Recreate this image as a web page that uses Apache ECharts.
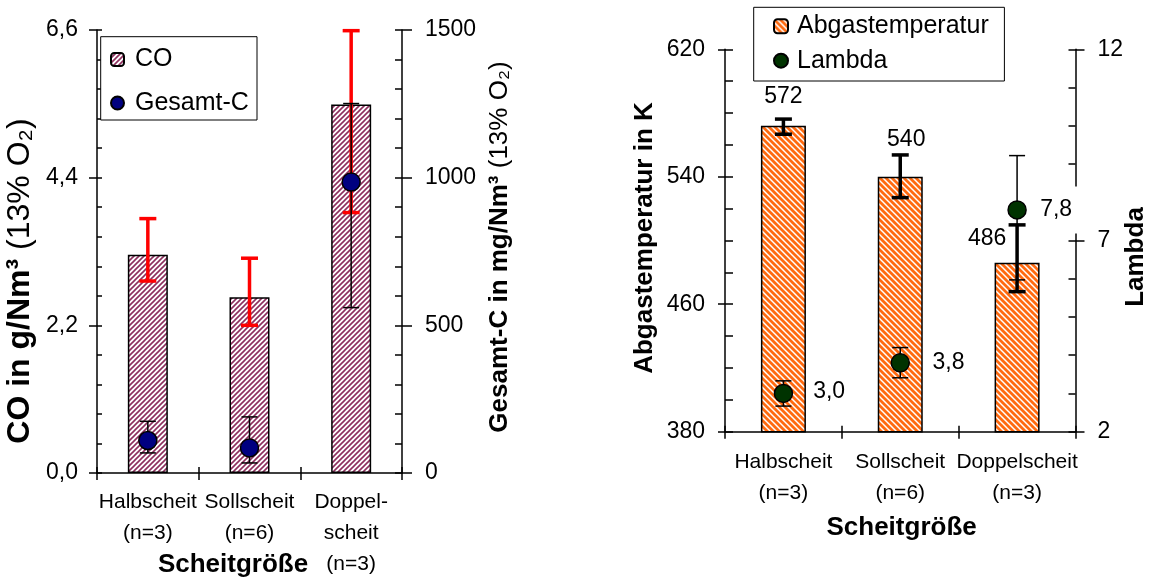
<!DOCTYPE html>
<html><head><meta charset="utf-8">
<script src="https://cdn.jsdelivr.net/npm/echarts@6/dist/echarts.min.js"></script>
<style>html,body{margin:0;padding:0;background:#fff}#c{width:1153px;height:579px}</style>
</head><body><div id="c"></div>
<script>
// ---------- data ----------
const catsLeft = ['Halbscheit\n(n=3)', 'Sollscheit\n(n=6)', 'Doppel-\nscheit\n(n=3)'];
const catsRight = ['Halbscheit\n(n=3)', 'Sollscheit\n(n=6)', 'Doppelscheit\n(n=3)'];
const coValues = [3.25, 2.62, 5.49];
const coLow = [2.86, 2.20, 3.88];
const coHigh = [3.79, 3.20, 6.59];
const gesamtC = [110, 85, 985];
const gesamtCLow = [68, 34, 560];
const gesamtCHigh = [175, 190, 1251];
const abgasTemp = [572, 540, 486];
const abgasLow = [566.7, 526.9, 467.9];
const abgasHigh = [576.2, 553.7, 509.8];
const lambdaVals = [3.0, 3.8, 7.8];
const lambdaLow = [2.67, 3.41, 5.97];
const lambdaHigh = [3.33, 4.20, 9.22];
const coTicks = [0, 2.2, 4.4, 6.6];
const gesamtTicks = [0, 500, 1000, 1500];
const tempTicks = [380, 460, 540, 620];
const lambdaTicks = [2, 7, 12];

// ---------- styles ----------
const FF = '"Liberation Sans", Arial, sans-serif';
const abgasLabelOffsets = [[0, -17.5], [6, -25.3], [-30, -13]];
const lambdaLabelOffsets = [[20, -1.7], [22.5, 0], [10.3, 0]];

function stripes(color, size, lw, dir) {
  const c = document.createElement('canvas');
  c.width = c.height = size;
  const g = c.getContext('2d');
  g.fillStyle = '#fff'; g.fillRect(0, 0, size, size);
  g.strokeStyle = color; g.lineWidth = lw; g.beginPath();
  for (const o of [-size, 0, size]) {
    if (dir === '/') { g.moveTo(o - 1, size + 1); g.lineTo(o + size + 1, -1); }
    else { g.moveTo(o - 1, -1); g.lineTo(o + size + 1, size + 1); }
  }
  g.stroke();
  return { image: c, repeat: 'repeat' };
}
const coPattern = stripes('#8e2f5e', 5, 1.6, '/');
const abgasPattern = stripes('#ff6a10', 6, 2.8, '\\');

const fmtComma = v => v.toFixed(1).replace('.', ',');
const black = { color: '#000', width: 1.5 };

function mainY(grid, pos, ticks, fmt, margin, outLen) {
  return {
    type: 'value', gridIndex: grid, position: pos,
    min: ticks[0], max: ticks[ticks.length - 1], interval: ticks[1] - ticks[0],
    axisLine: { show: true, lineStyle: black },
    axisTick: { show: true, inside: false, length: outLen, lineStyle: black },
    axisLabel: { formatter: fmt, margin: margin, fontSize: 23, color: '#000', fontFamily: FF },
    splitLine: { show: false }
  };
}
function dupY(grid, pos, ticks, step, len) {
  return {
    type: 'value', gridIndex: grid, position: pos,
    min: ticks[0], max: ticks[ticks.length - 1], interval: step,
    axisLine: { show: false },
    axisTick: { show: true, inside: true, length: len, lineStyle: black },
    axisLabel: { show: false }, splitLine: { show: false }
  };
}
function mainX(grid, cats, margin, lh) {
  return {
    type: 'category', gridIndex: grid, position: 'bottom', data: cats,
    axisLine: { show: true, lineStyle: black },
    axisTick: { show: true, length: 7, lineStyle: black },
    axisLabel: { interval: 0, margin: margin, fontSize: 21, lineHeight: lh, color: '#000', fontFamily: FF }
  };
}
function dupX(grid, cats) {
  return {
    type: 'category', gridIndex: grid, position: 'bottom', data: cats,
    axisLine: { show: false },
    axisTick: { show: true, inside: true, length: 6, lineStyle: black },
    axisLabel: { show: false }
  };
}
function errorBar(color, lw, capW) {
  return function (params, api) {
    const i = api.value(0);
    const lo = api.coord([i, api.value(1)]);
    const hi = api.coord([i, api.value(2)]);
    const h = capW / 2;
    const st = { stroke: color, lineWidth: lw };
    return { type: 'group', children: [
      { type: 'line', shape: { x1: lo[0], y1: lo[1], x2: hi[0], y2: hi[1] }, style: st },
      { type: 'line', shape: { x1: lo[0] - h, y1: lo[1], x2: lo[0] + h, y2: lo[1] }, style: st },
      { type: 'line', shape: { x1: hi[0] - h, y1: hi[1], x2: hi[0] + h, y2: hi[1] }, style: st }
    ]};
  };
}
function vTitle(x, y, text, size) {
  return { type: 'text', x: x, y: y, rotation: Math.PI / 2,
    style: { text: text, align: 'center', verticalAlign: 'middle', fill: '#000',
      rich: {
        b: { fontWeight: 'bold', fontSize: size, fontFamily: FF, fill: '#000' },
        n: { fontSize: size, fontFamily: FF, fill: '#000' }
      } } };
}

const chart = echarts.init(document.getElementById('c'), null, { renderer: 'canvas' });
chart.setOption({
  animation: false,
  backgroundColor: '#fff',
  grid: [
    { left: 97, top: 30, width: 305, height: 443, containLabel: false, outerBoundsMode: 'none' },
    { left: 725, top: 49.3, width: 350.5, height: 382.4, containLabel: false, outerBoundsMode: 'none' }
  ],
  xAxis: [mainX(0, catsLeft, 14, 31), dupX(0, catsLeft), mainX(1, catsRight, 15.7, 30.6), dupX(1, catsRight)],
  yAxis: [
    mainY(0, 'left', coTicks, fmtComma, 19, 8),
    dupY(0, 'left', coTicks, 0.44, 5),
    mainY(0, 'right', gesamtTicks, v => String(v), 23, 10),
    dupY(0, 'right', gesamtTicks, 100, 7),
    mainY(1, 'left', tempTicks, v => String(v), 20, 7),
    dupY(1, 'left', tempTicks, 20, 8),
    mainY(1, 'right', lambdaTicks, v => String(v), 22, 9),
    dupY(1, 'right', lambdaTicks, 1, 7)
  ],
  legend: [
    { data: ['CO', 'Gesamt-C'], orient: 'vertical', left: 110, top: 47, itemGap: 18.5,
      itemWidth: 13, itemHeight: 13, padding: 0, z: 10, selectedMode: false,
      textStyle: { fontSize: 25, lineHeight: 25, fontFamily: FF, color: '#000', padding: [0, 0, 0, 6] } },
    { data: ['Abgastemperatur', 'Lambda'], orient: 'vertical', left: 773, top: 13.3, itemGap: 8.4,
      itemWidth: 14, itemHeight: 14, padding: 0, z: 10, selectedMode: false,
      textStyle: { fontSize: 25, lineHeight: 26, fontFamily: FF, color: '#000', padding: [0, 0, 0, 4] } }
  ],
  graphic: [
    { type: 'rect', z: 9, shape: { x: 100.7, y: 36.7, width: 156.3, height: 83.3 },
      style: { fill: '#fff', stroke: '#000', lineWidth: 1 } },
    { type: 'rect', z: 9, shape: { x: 753.7, y: 7.3, width: 250.7, height: 73.7 },
      style: { fill: '#fff', stroke: '#000', lineWidth: 1 } },
    vTitle(20, 281, '{b|CO in g/Nm³}{n| (13% O₂)}', 32),
    vTitle(500, 247, '{b|Gesamt-C in mg/Nm³}{n| (13% O₂)}', 26),
    vTitle(645, 238, '{b|Abgastemperatur in K}', 26),
    vTitle(1136, 257, '{b|Lambda}', 26),
    { type: 'text', x: 233, y: 565, style: { text: 'Scheitgröße', font: 'bold 26px ' + FF, fill: '#000', align: 'center', verticalAlign: 'middle' } },
    { type: 'text', x: 901.6, y: 527.7, style: { text: 'Scheitgröße', font: 'bold 26px ' + FF, fill: '#000', align: 'center', verticalAlign: 'middle' } }
  ],
  series: [
    { name: 'CO', type: 'bar', xAxisIndex: 0, yAxisIndex: 0, barWidth: 40, z: 2,
      itemStyle: { color: coPattern, borderColor: '#000', borderWidth: 1.5 },
      data: coValues },
    { name: 'CO-err', type: 'custom', xAxisIndex: 0, yAxisIndex: 0, z: 3,
      renderItem: errorBar('#ff0000', 3.5, 17), encode: { x: 0, y: [1, 2] },
      data: coValues.map((v, i) => [i, coLow[i], coHigh[i]]) },
    { name: 'GC-err', type: 'custom', xAxisIndex: 0, yAxisIndex: 2, z: 4,
      renderItem: errorBar('#000', 1.5, 16), encode: { x: 0, y: [1, 2] },
      data: gesamtC.map((v, i) => [i, gesamtCLow[i], gesamtCHigh[i]]) },
    { name: 'Gesamt-C', type: 'scatter', xAxisIndex: 0, yAxisIndex: 2, z: 5,
      symbol: 'circle', symbolSize: 18,
      itemStyle: { color: '#000080', borderColor: '#000', borderWidth: 1.5, opacity: 1 },
      data: gesamtC },

    { name: 'Abgastemperatur', type: 'bar', xAxisIndex: 2, yAxisIndex: 4, barWidth: 45, z: 2,
      itemStyle: { color: abgasPattern, borderColor: '#000', borderWidth: 1.5 },
      label: { show: true, position: 'top', distance: 0, fontSize: 23, lineHeight: 23, color: '#000', fontFamily: FF,
        formatter: p => String(Math.round(p.value)) },
      data: abgasTemp.map((v, i) => ({ value: v, label: { offset: abgasLabelOffsets[i] } })) },
    { name: 'L-err', type: 'custom', xAxisIndex: 2, yAxisIndex: 6, z: 3,
      renderItem: errorBar('#000', 1.5, 16), encode: { x: 0, y: [1, 2] },
      data: lambdaVals.map((v, i) => [i, lambdaLow[i], lambdaHigh[i]]) },
    { name: 'A-err', type: 'custom', xAxisIndex: 2, yAxisIndex: 4, z: 4,
      renderItem: errorBar('#000', 3.5, 17), encode: { x: 0, y: [1, 2] },
      data: abgasTemp.map((v, i) => [i, abgasLow[i], abgasHigh[i]]) },
    { name: 'Lambda', type: 'scatter', xAxisIndex: 2, yAxisIndex: 6, z: 5,
      symbol: 'circle', symbolSize: 18,
      itemStyle: { color: '#003300', borderColor: '#000', borderWidth: 1.5, opacity: 1 },
      label: { show: true, position: 'right', distance: 0, fontSize: 23, lineHeight: 23, color: '#000', fontFamily: FF,
        formatter: p => fmtComma(p.value) },
      data: lambdaVals.map((v, i) => {
        const lab = { offset: lambdaLabelOffsets[i] };
        if (i === 2) { lab.backgroundColor = '#fff'; lab.padding = [12, 6, 12, 3]; }
        return { value: v, label: lab };
      }) }
  ]
});
</script></body></html>
